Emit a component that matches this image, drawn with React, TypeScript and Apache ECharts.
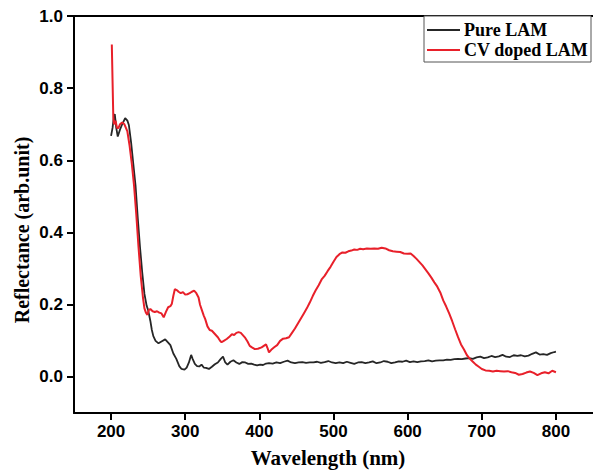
import React, { useEffect, useRef } from "react";
import * as echarts from "echarts";

const xTicks = [200, 300, 400, 500, 600, 700, 800];
const yTicks = [0, 0.2, 0.4, 0.6, 0.8, 1.0];

const pureWavelength = [
  200, 202, 204, 205, 207, 209, 212, 215, 219, 222, 224, 227, 230, 233, 236, 239, 242, 245, 248, 250,
  253, 255, 257, 260, 264, 268, 273, 277, 280, 284, 288, 292, 295, 299, 302, 305, 308, 310, 313, 316,
  319, 322, 325, 328, 332, 336, 340, 344, 348, 351, 354, 357, 361, 365, 369, 373, 377, 381, 385, 389,
  393, 397, 401, 405, 409, 413, 418, 423, 428, 433, 438, 443, 448, 453, 458, 463, 468, 473, 478, 483,
  488, 493, 498, 503, 508, 513, 518, 523, 528, 533, 538, 543, 548, 553, 558, 563, 568, 573, 578, 583,
  588, 593, 598, 603, 608, 613, 618, 623, 628, 633, 638, 643, 648, 653, 658, 663, 668, 673, 678, 683,
  688, 693, 698, 703, 708, 713, 718, 723, 728, 733, 738, 743, 748, 753, 758, 763, 768, 773, 778, 783,
  788, 793, 798, 800,
];
const pureReflectance = [
  0.668, 0.69, 0.725, 0.728, 0.69, 0.666, 0.685, 0.7, 0.717, 0.71, 0.698, 0.65, 0.59, 0.53, 0.44, 0.36, 0.29, 0.23, 0.197, 0.185,
  0.155, 0.13, 0.113, 0.1, 0.093, 0.098, 0.104, 0.095, 0.088, 0.065, 0.05, 0.03, 0.022, 0.02, 0.026, 0.04, 0.061, 0.05, 0.036, 0.03,
  0.029, 0.034, 0.026, 0.025, 0.022, 0.028, 0.035, 0.04, 0.05, 0.056, 0.04, 0.034, 0.042, 0.046, 0.04, 0.036, 0.041, 0.04, 0.036, 0.037,
  0.034, 0.032, 0.034, 0.033, 0.037, 0.038, 0.037, 0.04, 0.038, 0.042, 0.045, 0.04, 0.038, 0.04, 0.041, 0.039, 0.04, 0.04, 0.042, 0.039,
  0.041, 0.044, 0.04, 0.038, 0.04, 0.038, 0.042, 0.039, 0.036, 0.04, 0.041, 0.038, 0.04, 0.043, 0.038, 0.04, 0.044, 0.042, 0.038, 0.04,
  0.043, 0.042, 0.045, 0.041, 0.043, 0.041, 0.043, 0.044, 0.046, 0.043, 0.045, 0.046, 0.046, 0.048, 0.047, 0.049, 0.05, 0.049, 0.051, 0.052,
  0.05, 0.054, 0.056, 0.052, 0.054, 0.058, 0.055, 0.057, 0.061, 0.056, 0.055, 0.06, 0.058, 0.06, 0.057, 0.059, 0.064, 0.068, 0.062, 0.063,
  0.061, 0.066, 0.069, 0.07,
];

const cvWavelength = [
  201, 202, 203, 204, 206, 208, 210, 212, 215, 218, 220, 222, 225, 228, 231, 234, 237, 240, 243, 245,
  247, 249, 251, 253, 256, 259, 262, 265, 268, 271, 274, 277, 280, 282, 284, 286, 289, 291, 294, 297,
  300, 303, 306, 309, 312, 315, 318, 320, 322, 325, 327, 330, 333, 336, 340, 344, 347, 349, 352, 356,
  360, 363, 366, 369, 372, 375, 378, 381, 384, 387, 390, 394, 398, 403, 406, 409, 411, 413, 416, 420,
  424, 428, 432, 436, 440, 444, 448, 452, 456, 460, 464, 468, 472, 476, 480, 484, 488, 492, 496, 500,
  504, 508, 512, 516, 520, 524, 528, 532, 536, 540, 545, 550, 555, 560, 565, 570, 575, 580, 585, 590,
  595, 600, 604, 608, 612, 616, 620, 624, 628, 632, 636, 640, 644, 648, 652, 656, 660, 664, 668, 672,
  676, 680, 684, 688, 692, 696, 700, 705, 710, 715, 720, 725, 730, 735, 740, 745, 750, 755, 760, 765,
  770, 775, 780, 785, 790, 795, 800,
];
const cvReflectance = [
  0.921, 0.82, 0.72, 0.7, 0.71, 0.69, 0.69, 0.7, 0.705, 0.7, 0.69, 0.68, 0.64, 0.59, 0.53, 0.45, 0.36, 0.28, 0.22, 0.19,
  0.178, 0.172, 0.186, 0.188, 0.182, 0.18, 0.182, 0.178, 0.176, 0.165, 0.18, 0.193, 0.196, 0.203, 0.225, 0.243, 0.24, 0.236, 0.232, 0.235,
  0.228, 0.229, 0.232, 0.236, 0.239, 0.232, 0.22, 0.2, 0.188, 0.17, 0.16, 0.14, 0.13, 0.128, 0.119, 0.11, 0.1, 0.096, 0.1, 0.105,
  0.112, 0.118, 0.116, 0.122, 0.124, 0.122, 0.115, 0.108, 0.098, 0.086, 0.082, 0.077, 0.078, 0.082, 0.086, 0.09, 0.08, 0.068, 0.075, 0.082,
  0.088, 0.1, 0.106, 0.107, 0.11, 0.122, 0.134, 0.148, 0.162, 0.176, 0.19, 0.206, 0.224, 0.24, 0.254, 0.27, 0.28, 0.293, 0.305, 0.319,
  0.332, 0.34, 0.345, 0.344, 0.348, 0.35, 0.353, 0.352, 0.355, 0.354, 0.356, 0.355, 0.356, 0.355, 0.358, 0.356, 0.351, 0.348, 0.347, 0.346,
  0.342, 0.341, 0.342, 0.335, 0.327, 0.318, 0.309, 0.298, 0.287, 0.275, 0.262, 0.25, 0.234, 0.212, 0.195, 0.176, 0.155, 0.132, 0.11, 0.09,
  0.076, 0.06, 0.05, 0.042, 0.034, 0.028, 0.022, 0.018, 0.017, 0.015, 0.017, 0.016, 0.015, 0.016, 0.013, 0.011, 0.006, 0.008, 0.012, 0.015,
  0.011, 0.005, 0.01, 0.013, 0.01, 0.017, 0.013,
];

const seriesNames = ["Pure LAM", "CV doped LAM"];
const xTitle = "Wavelength (nm)";
const yTitle = "Reflectance (arb.unit)";

const sansBold = { fontFamily: "Liberation Sans, Arial, sans-serif", fontWeight: "bold" as const, fontSize: 17, color: "#000" };
const serifFont = "Liberation Serif, Times New Roman, serif";

export default function App() {
  const ref = useRef<HTMLDivElement>(null);
  useEffect(() => {
    if (!ref.current) return;
    const chart = echarts.init(ref.current, null, { renderer: "svg" });
    const pure = pureWavelength.map((x, i) => [x, pureReflectance[i]]);
    const cv = cvWavelength.map((x, i) => [x, cvReflectance[i]]);
    chart.setOption({
      animation: false,
      backgroundColor: "#fff",
      grid: { left: 74, top: 16, right: -4, bottom: 60, containLabel: false },
      xAxis: [
        {
          type: "value",
          min: 150,
          max: 850,
          position: "bottom",
          axisLine: { show: true, onZero: false, lineStyle: { color: "#000", width: 2 } },
          axisTick: { show: true, length: 7, inside: false, customValues: xTicks, lineStyle: { color: "#000", width: 2 } },
          axisLabel: { ...sansBold, margin: 10, customValues: xTicks, formatter: (v: number) => String(v) },
          splitLine: { show: false },
        },
        {
          type: "value",
          min: 150,
          max: 850,
          position: "top",
          axisLine: { show: true, onZero: false, lineStyle: { color: "#000", width: 2 } },
          axisTick: { show: false },
          axisLabel: { show: false },
          splitLine: { show: false },
        },
      ],
      yAxis: {
        type: "value",
        min: -0.1,
        max: 1.0,
        axisLine: { show: true, onZero: false, lineStyle: { color: "#000", width: 2 } },
        axisTick: { show: true, length: 7, inside: false, customValues: yTicks, lineStyle: { color: "#000", width: 2 } },
        axisLabel: { ...sansBold, margin: 11, customValues: yTicks, formatter: (v: number) => v.toFixed(1) },
        splitLine: { show: false },
      },
      legend: {
        orient: "vertical",
        left: 424,
        top: 16,
        padding: [5, 3, 3, 2],
        itemGap: 2,
        itemWidth: 33,
        itemHeight: 14,
        borderColor: "#555",
        borderWidth: 1,
        backgroundColor: "#fff",
        data: seriesNames,
        itemStyle: { opacity: 0 },
        lineStyle: { width: 2 },
        textStyle: { fontFamily: serifFont, fontWeight: "bold", fontSize: 18, color: "#000", lineHeight: 18, padding: [0, 0, 0, -1] },
      },
      series: [
        {
          name: seriesNames[0],
          type: "line",
          data: pure,
          symbol: "none",
          lineStyle: { color: "#262626", width: 1.8 },
          itemStyle: { color: "#262626" },
          z: 2,
        },
        {
          name: seriesNames[1],
          type: "line",
          data: cv,
          symbol: "none",
          lineStyle: { color: "#e8202a", width: 2 },
          itemStyle: { color: "#e8202a" },
          z: 3,
        },
      ],
      graphic: [
        {
          type: "text",
          x: 328,
          y: 458,
          style: {
            text: xTitle,
            font: `bold 21px ${serifFont}`,
            fill: "#000",
            textAlign: "center",
            textVerticalAlign: "middle",
            align: "center",
            verticalAlign: "middle",
          },
        },
        {
          type: "text",
          x: 22,
          y: 230,
          rotation: Math.PI / 2,
          style: {
            text: yTitle,
            font: `bold 20px ${serifFont}`,
            fill: "#000",
            textAlign: "center",
            textVerticalAlign: "middle",
            align: "center",
            verticalAlign: "middle",
          },
        },
      ],
    });
    return () => chart.dispose();
  }, []);
  return <div ref={ref} style={{ position: "fixed", left: 0, top: 0, width: 593, height: 473 }} />;
}
